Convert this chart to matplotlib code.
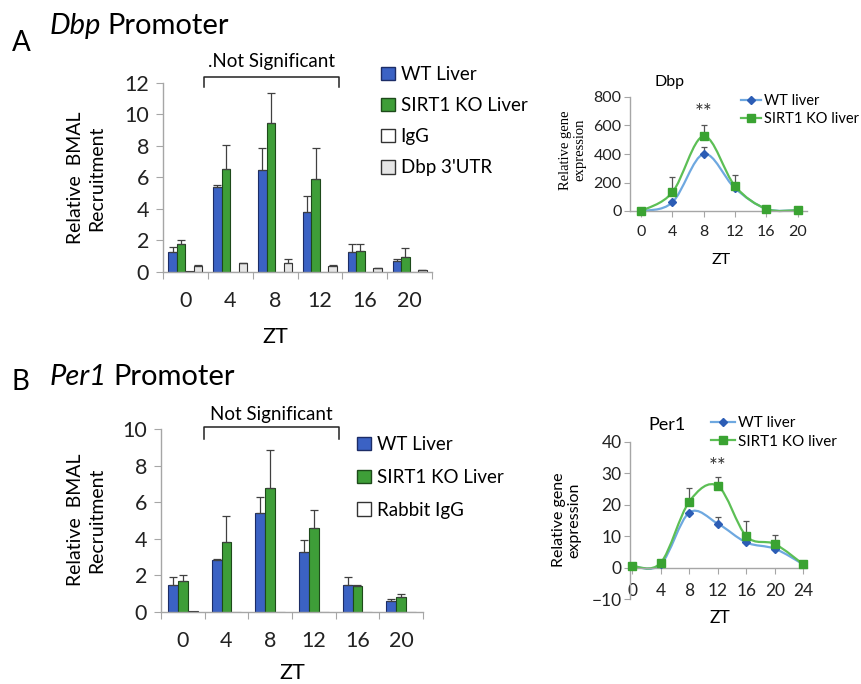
import numpy as np
import matplotlib
matplotlib.use('Agg')
import matplotlib.pyplot as plt
from matplotlib.patches import Patch, PathPatch
from matplotlib.lines import Line2D
from matplotlib.path import Path

plt.rcParams['font.family'] = ['Lato', 'DejaVu Sans']

# ---------------- data ----------------
zt = [0, 4, 8, 12, 16, 20]

# Panel A: Dbp promoter ChIP
dbp_wt = [1.3, 5.4, 6.5, 3.8, 1.3, 0.7]
dbp_wt_err = [0.3, 0.15, 1.4, 1.05, 0.45, 0.1]
dbp_ko = [1.75, 6.55, 9.45, 5.9, 1.35, 0.95]
dbp_ko_err = [0.25, 1.5, 1.9, 2.0, 0.4, 0.6]
dbp_igg = [0.05, 0.0, 0.0, 0.0, 0.0, 0.0]
dbp_utr = [0.4, 0.6, 0.6, 0.4, 0.25, 0.1]
dbp_utr_err = [0.05, 0.0, 0.2, 0.05, 0.0, 0.05]

# Panel A: Dbp expression
dbp_expr_wt = [0, 60, 400, 160, 15, 5]
dbp_expr_wt_err = [0, 0, 50, 0, 0, 0]
dbp_expr_ko = [0, 130, 525, 175, 15, 5]
dbp_expr_ko_err = [0, 110, 80, 80, 0, 0]

# Panel B: Per1 promoter ChIP
per1_wt = [1.5, 2.85, 5.4, 3.3, 1.45, 0.6]
per1_wt_err = [0.4, 0.05, 0.9, 0.65, 0.45, 0.1]
per1_ko = [1.7, 3.8, 6.8, 4.6, 1.4, 0.8]
per1_ko_err = [0.3, 1.45, 2.05, 1.0, 0.05, 0.2]
per1_igg = [0.05, 0.0, 0.0, 0.0, 0.0, 0.0]

# Panel B: Per1 expression
zt_per1 = [0, 4, 8, 12, 16, 20, 24]
per1_expr_wt = [0.5, 1.0, 17.5, 14.0, 8.0, 6.0, 1.0]
per1_expr_wt_err = [0, 0, 0, 2.0, 1.5, 2.5, 0]
per1_expr_ko = [0.5, 1.5, 21.0, 26.0, 10.0, 7.5, 1.0]
per1_expr_ko_err = [0, 0, 4.5, 3.0, 4.8, 3.0, 0]

# ---------------- style ----------------
C_WT = '#3b62c4'; E_WT = '#1c2c66'
C_KO = '#3e9e38'; E_KO = '#1d4a1a'
C_IGG = '#ffffff'; C_UTR = '#e6e6e6'; E_GR = '#333333'
L_WT = '#6ea8e0'; M_WT = '#2c5db5'
L_KO = '#5cbf55'; M_KO = '#3aa332'
AX_C = '#a6a6a6'
ERR_C = '#404040'
SANS = ['Lato', 'DejaVu Sans']

W, H = 861, 684
fig = plt.figure(figsize=(W / 100, H / 100), dpi=100)
fig.patch.set_facecolor('white')


def fax(x0, y0, x1, y1):
    """axes from pixel box (left, top, right, bottom)"""
    return fig.add_axes([x0 / W, 1 - y1 / H, (x1 - x0) / W, (y1 - y0) / H])


def style_axes(ax):
    for s in ['top', 'right']:
        ax.spines[s].set_visible(False)
    for s in ['left', 'bottom']:
        ax.spines[s].set_color(AX_C)
        ax.spines[s].set_linewidth(1.0)
    ax.set_facecolor('none')


def bar_panel(ax, series, ymax, ystep):
    n = len(series)
    x = np.arange(len(zt))
    width = 0.76 / n if n == 4 else 0.227
    offs = (np.arange(n) - (n - 1) / 2) * width
    for (vals, errs, fc, ec), o in zip(series, offs):
        ax.bar(x + o, vals, width, color=fc, edgecolor=ec, linewidth=0.8, zorder=2)
        if errs is not None:
            ax.errorbar(x + o, vals, yerr=[np.zeros(len(vals)), errs], fmt='none',
                        ecolor=ERR_C, elinewidth=0.9, capsize=3, capthick=0.9, zorder=3)
    style_axes(ax)
    ax.set_xlim(-0.5, len(zt) - 0.5)
    ax.set_ylim(0, ymax)
    ax.set_yticks(np.arange(0, ymax + 0.01, ystep))
    ax.set_yticklabels([f'{v:g}' for v in np.arange(0, ymax + 0.01, ystep)])
    ax.set_xticks(np.arange(-0.5, len(zt), 1))
    ax.set_xticklabels([])
    ax.set_xticks(x, minor=True)
    ax.set_xticklabels([str(z) for z in zt], minor=True)
    ax.tick_params(axis='x', which='major', length=5, color=AX_C, direction='out')
    ax.tick_params(axis='x', which='minor', length=0, pad=14, labelsize=15.5, labelcolor='#222222')
    ax.tick_params(axis='y', length=5, color=AX_C, pad=5, labelsize=15.5, labelcolor='#222222')


def smooth_path(xs, ys):
    pts = np.column_stack([xs, ys]).astype(float)
    P = np.vstack([pts[0], pts, pts[-1]])
    verts = [pts[0]]
    codes = [Path.MOVETO]
    for i in range(1, len(P) - 2):
        p0, p1, p2, p3 = P[i - 1], P[i], P[i + 1], P[i + 2]
        c1 = p1 + (p2 - p0) / 6.0
        c2 = p2 - (p3 - p1) / 6.0
        verts += [c1, c2, p2]
        codes += [Path.CURVE4] * 3
    return Path(verts, codes)


def line_series(ax, xs, ys, errs, lc, mc, marker, ms, label):
    ax.add_patch(PathPatch(smooth_path(xs, ys), facecolor='none', edgecolor=lc,
                           linewidth=1.6, zorder=2, clip_on=False))
    ax.errorbar(xs, ys, yerr=[np.zeros(len(ys)), errs], fmt='none', ecolor='#555555',
                elinewidth=0.9, capsize=2.5, capthick=0.9, zorder=1)
    ax.plot(xs, ys, linestyle='none', marker=marker, ms=ms, color=mc,
            markeredgecolor=mc, zorder=3, clip_on=False)
    return Line2D([], [], color=lc, linewidth=1.6, marker=marker, ms=ms,
                  markerfacecolor=mc, markeredgecolor=mc, label=label)


def title(x, y, ital, rest, size=21):
    t = fig.text(x / W, 1 - y / H, ital, fontsize=size, fontstyle='italic', va='baseline', ha='left')
    r = fig.canvas.get_renderer()
    bb = t.get_window_extent(renderer=r)
    fig.text(bb.x1 / W + 6 / W, 1 - y / H, rest, fontsize=size, va='baseline', ha='left')


# ---------------- Panel A: bars ----------------
axA = fax(163, 83, 432, 272)
bar_panel(axA, [(dbp_wt, dbp_wt_err, C_WT, E_WT),
                (dbp_ko, dbp_ko_err, C_KO, E_KO),
                (dbp_igg, None, C_IGG, E_GR),
                (dbp_utr, dbp_utr_err, C_UTR, E_GR)], 12, 2)
axA.plot([0.42, 0.42, 3.43, 3.43], [11.75, 12.38, 12.38, 11.75], color='#222222',
         lw=1.1, clip_on=False)
axA.text(1.93, 13.35, '.Not Significant', ha='center', va='center', fontsize=13.5)
fig.text(275 / W, 1 - 337 / H, 'ZT', ha='center', va='center', fontsize=15.5)
fig.text(86 / W, 1 - 178 / H, 'Relative  BMAL\nRecruitment', rotation=90, ha='center',
         va='center', fontsize=14, linespacing=1.3)
hA = [Patch(facecolor=C_WT, edgecolor=E_WT, label='WT Liver'),
      Patch(facecolor=C_KO, edgecolor=E_KO, label='SIRT1 KO Liver'),
      Patch(facecolor=C_IGG, edgecolor=E_GR, label='IgG'),
      Patch(facecolor=C_UTR, edgecolor=E_GR, label="Dbp 3'UTR")]
fig.legend(handles=hA, loc='upper left', bbox_to_anchor=(381 / W, 1 - 66 / H), frameon=False,
           fontsize=13.5, handlelength=0.75, handleheight=0.75, handletextpad=0.3,
           labelspacing=0.75, borderpad=0, borderaxespad=0)

fig.text(12 / W, 1 - 51 / H, 'A', fontsize=20, va='baseline', ha='left')
title(50, 34, 'Dbp', 'Promoter')

# ---------------- Panel A: Dbp expression ----------------
axAL = fax(630, 97, 630 + 177, 211)
style_axes(axAL)
h1 = line_series(axAL, zt, dbp_expr_wt, dbp_expr_wt_err, L_WT, M_WT, 'D', 4.5, 'WT liver')
h2 = line_series(axAL, zt, dbp_expr_ko, dbp_expr_ko_err, L_KO, M_KO, 's', 6, 'SIRT1 KO liver')
axAL.set_xlim(-1.4, 21.2)
axAL.set_ylim(0, 800)
axAL.set_yticks([0, 200, 400, 600, 800])
axAL.set_xticks(zt)
axAL.tick_params(axis='both', length=4, color=AX_C, labelsize=11.5, labelcolor='#222222')
axAL.tick_params(axis='x', pad=6)
axAL.tick_params(axis='y', pad=2)
axAL.text(8, 690, '**', ha='center', va='center', fontsize=15, color='#333333')
fig.text(670 / W, 1 - 82 / H, 'Dbp', ha='center', va='center', fontsize=11.5, family=SANS)
fig.text(721 / W, 1 - 260 / H, 'ZT', ha='center', va='center', fontsize=11.5)
fig.text(573 / W, 1 - 150 / H, 'Relative gene\nexpression', rotation=90, ha='center',
         va='center', fontsize=10.5, family=['Liberation Serif', 'DejaVu Serif'], linespacing=1.1)
fig.legend(handles=[h1, h2], loc='upper left', bbox_to_anchor=(741 / W, 1 - 94 / H),
           frameon=False, fontsize=10.5, handlelength=1.4, handletextpad=0.2,
           labelspacing=0.25, borderpad=0, borderaxespad=0)

# ---------------- Panel B: bars ----------------
axB = fax(161, 429, 423, 612)
bar_panel(axB, [(per1_wt, per1_wt_err, C_WT, E_WT),
                (per1_ko, per1_ko_err, C_KO, E_KO),
                (per1_igg, None, C_IGG, E_GR)], 10, 2)
axB.plot([0.48, 0.48, 3.57, 3.57], [9.45, 10.1, 10.1, 9.45], color='#222222',
         lw=1.1, clip_on=False)
axB.text(2.03, 10.8, 'Not Significant', ha='center', va='center', fontsize=13.5)
fig.text(292 / W, 1 - 673 / H, 'ZT', ha='center', va='center', fontsize=15.5)
fig.text(86 / W, 1 - 520 / H, 'Relative  BMAL\nRecruitment', rotation=90, ha='center',
         va='center', fontsize=14, linespacing=1.3)
hB = [Patch(facecolor=C_WT, edgecolor=E_WT, label='WT Liver'),
      Patch(facecolor=C_KO, edgecolor=E_KO, label='SIRT1 KO Liver'),
      Patch(facecolor=C_IGG, edgecolor=E_GR, label='Rabbit IgG')]
fig.legend(handles=hB, loc='upper left', bbox_to_anchor=(357 / W, 1 - 436 / H), frameon=False,
           fontsize=13.5, handlelength=0.75, handleheight=0.75, handletextpad=0.3,
           labelspacing=0.85, borderpad=0, borderaxespad=0)

fig.text(12 / W, 1 - 390 / H, 'B', fontsize=20, va='baseline', ha='left')
title(50, 385, 'Per1', 'Promoter')

# ---------------- Panel B: Per1 expression ----------------
axBL = fax(630, 442, 630 + 177, 599)
style_axes(axBL)
axBL.spines['bottom'].set_position(('data', 0))
g1 = line_series(axBL, zt_per1, per1_expr_wt, per1_expr_wt_err, L_WT, M_WT, 'D', 4.5, 'WT liver')
g2 = line_series(axBL, zt_per1, per1_expr_ko, per1_expr_ko_err, L_KO, M_KO, 's', 6, 'SIRT1 KO liver')
axBL.set_xlim(-0.3, 24.5)
axBL.set_ylim(-10, 40)
axBL.set_yticks([-10, 0, 10, 20, 30, 40])
axBL.set_xticks(zt_per1)
axBL.tick_params(axis='both', length=4, color=AX_C, labelsize=12.5, labelcolor='#222222')
axBL.tick_params(axis='x', pad=7)
axBL.tick_params(axis='y', pad=2)
axBL.text(12, 32, '**', ha='center', va='center', fontsize=15, color='#333333')
fig.text(667 / W, 1 - 425 / H, 'Per1', ha='center', va='center', fontsize=13, family=SANS)
fig.text(720 / W, 1 - 618 / H, 'ZT', ha='center', va='center', fontsize=12.5)
fig.text(567 / W, 1 - 520 / H, 'Relative gene\nexpression', rotation=90, ha='center',
         va='center', fontsize=11.5, linespacing=1.1, family=SANS)
fig.legend(handles=[g1, g2], loc='upper left', bbox_to_anchor=(711 / W, 1 - 416 / H),
           frameon=False, fontsize=11, handlelength=1.6, handletextpad=0.2,
           labelspacing=0.3, borderpad=0, borderaxespad=0)

fig.savefig('out.png', dpi=100, facecolor='white')
